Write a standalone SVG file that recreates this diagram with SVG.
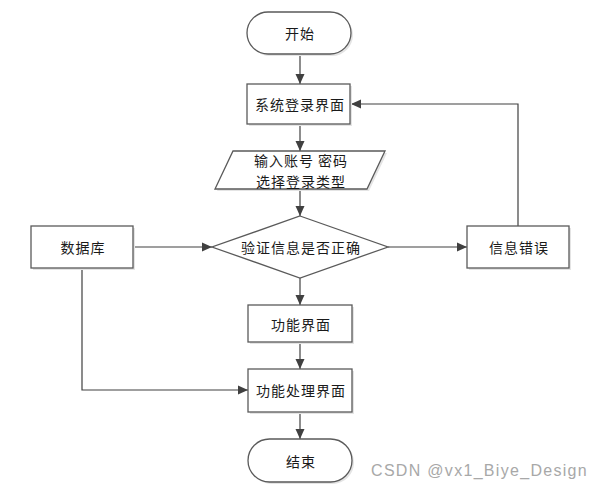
<svg xmlns="http://www.w3.org/2000/svg" width="602" height="490" viewBox="0 0 602 490">
<defs>
<marker id="arr" markerWidth="10" markerHeight="10" refX="10" refY="5" orient="auto" markerUnits="userSpaceOnUse">
<path d="M0,0.5 L10,5 L0,9.5 Z" fill="#404040"/>
</marker>
</defs>
<style>
.shape{fill:#ffffff;stroke:#5a5a5a;stroke-width:1.3}
.shadow{fill:#e4e4e4;stroke:none}
.lbl{font-family:"Microsoft YaHei","Noto Sans CJK SC",sans-serif;font-size:14px;letter-spacing:1px;fill:#1a1a1a;text-anchor:middle;dominant-baseline:central}
.conn{fill:none;stroke:#404040;stroke-width:1.2}
</style>
<rect width="602" height="490" fill="#ffffff"/>
<g id="connectors">
<line class="conn" x1="300" y1="54" x2="300" y2="84" marker-end="url(#arr)"/>
<line class="conn" x1="300" y1="124" x2="300" y2="151" marker-end="url(#arr)"/>
<line class="conn" x1="300" y1="189" x2="300" y2="216" marker-end="url(#arr)"/>
<line class="conn" x1="133" y1="247" x2="212" y2="247" marker-end="url(#arr)"/>
<line class="conn" x1="388" y1="247" x2="467" y2="247" marker-end="url(#arr)"/>
<polyline class="conn" points="518,226 518,104 351,104" marker-end="url(#arr)"/>
<line class="conn" x1="300" y1="278" x2="300" y2="305" marker-end="url(#arr)"/>
<line class="conn" x1="300" y1="342" x2="300" y2="369" marker-end="url(#arr)"/>
<polyline class="conn" points="82,268 82,390 248,390" marker-end="url(#arr)"/>
<line class="conn" x1="300" y1="412" x2="300" y2="439" marker-end="url(#arr)"/>
</g>
<g id="start">
<rect class="shadow" x="249" y="14" width="104" height="42" rx="21"/>
<rect class="shape" x="247" y="12" width="104" height="42" rx="21"/>
<text class="lbl" x="300" y="33">开始</text>
</g>
<g id="login">
<rect class="shadow" x="249" y="86" width="103" height="40"/>
<rect class="shape" x="247" y="84" width="103" height="40"/>
<text class="lbl" x="300" y="104">系统登录界面</text>
</g>
<g id="input">
<polygon class="shadow" points="235,153 387,153 369,191 217,191"/>
<polygon class="shape" points="233,151 385,151 367,189 215,189"/>
<text class="lbl" x="301" y="160">输入账号 密码</text>
<text class="lbl" x="301" y="181">选择登录类型</text>
</g>
<g id="verify">
<polygon class="shape" points="300,216 388,247 300,278 212,247"/>
<text class="lbl" x="301" y="247">验证信息是否正确</text>
</g>
<g id="database">
<rect class="shadow" x="33" y="228" width="102" height="42"/>
<rect class="shape" x="31" y="226" width="102" height="42"/>
<text class="lbl" x="83" y="247">数据库</text>
</g>
<g id="error">
<rect class="shadow" x="469" y="228" width="102" height="42"/>
<rect class="shape" x="467" y="226" width="102" height="42"/>
<text class="lbl" x="519" y="247">信息错误</text>
</g>
<g id="func">
<rect class="shadow" x="250" y="307" width="104" height="37"/>
<rect class="shape" x="248" y="305" width="104" height="37"/>
<text class="lbl" x="301" y="324">功能界面</text>
</g>
<g id="process">
<rect class="shadow" x="250" y="371" width="104" height="43"/>
<rect class="shape" x="248" y="369" width="104" height="43"/>
<text class="lbl" x="301" y="390">功能处理界面</text>
</g>
<g id="end">
<rect class="shadow" x="250" y="441" width="104" height="43" rx="21.5"/>
<rect class="shape" x="248" y="439" width="104" height="43" rx="21.5"/>
<text class="lbl" x="301" y="461">结束</text>
</g>
<text x="588" y="470" font-family="Liberation Sans, Arial, sans-serif" font-size="16" letter-spacing="1.3" fill="#a8a8a8" text-anchor="end" dominant-baseline="central">CSDN @vx1_Biye_Design</text>
</svg>
